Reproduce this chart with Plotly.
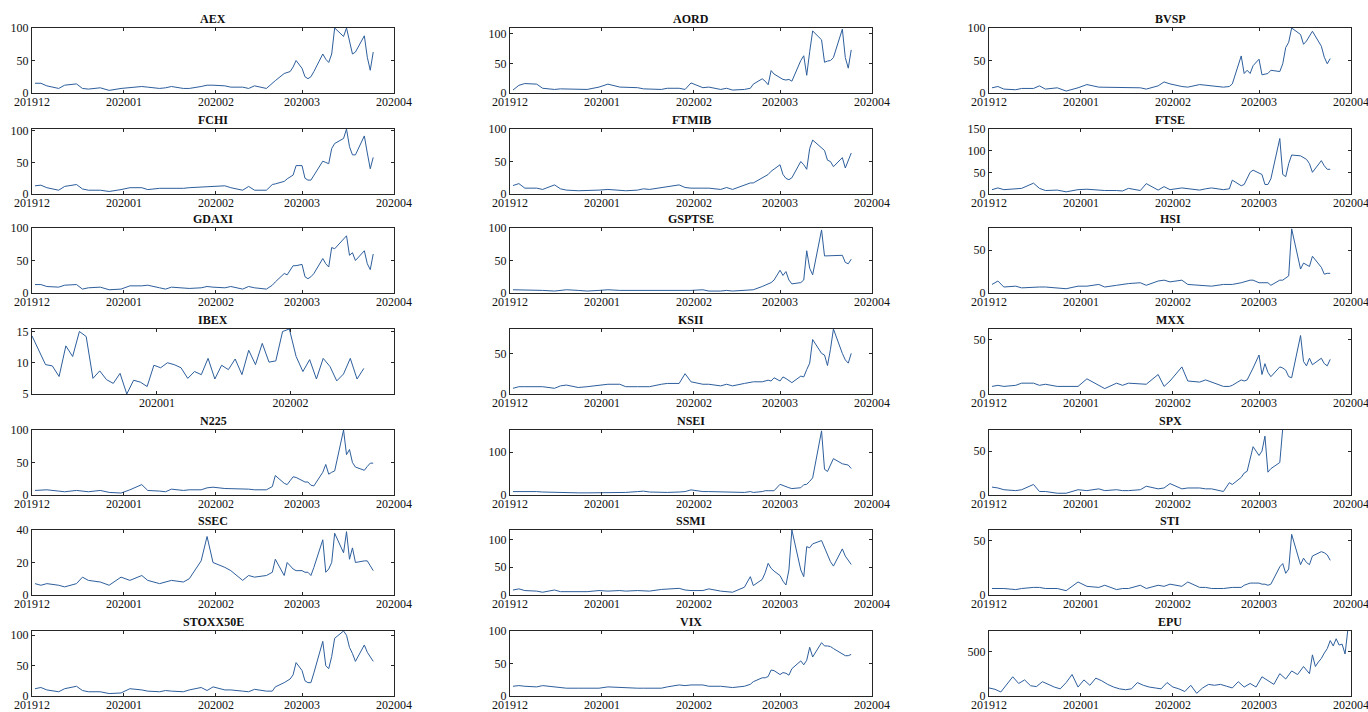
import plotly.graph_objects as go
import pandas as pd

# ---------------- data ----------------
DATES = [
    "2019-12-02", "2019-12-04", "2019-12-06", "2019-12-10", "2019-12-12", "2019-12-16",
    "2019-12-18", "2019-12-20", "2019-12-24", "2019-12-27", "2019-12-31",
    "2020-01-03", "2020-01-07", "2020-01-09", "2020-01-13", "2020-01-15", "2020-01-17",
    "2020-01-21", "2020-01-23", "2020-01-27", "2020-01-29", "2020-01-31",
    "2020-02-04", "2020-02-06", "2020-02-10", "2020-02-12", "2020-02-14", "2020-02-18",
    "2020-02-20", "2020-02-21", "2020-02-24", "2020-02-25", "2020-02-26", "2020-02-27", "2020-02-28",
    "2020-03-01", "2020-03-02", "2020-03-03", "2020-03-04", "2020-03-05", "2020-03-08",
    "2020-03-09", "2020-03-10", "2020-03-11", "2020-03-12", "2020-03-15", "2020-03-16",
    "2020-03-17", "2020-03-18", "2020-03-19", "2020-03-22", "2020-03-23", "2020-03-24",
    "2020-03-25", "2020-03-26",
]

AEX = [15, 15, 11, 7, 12, 14, 7, 6, 8, 4, 7,
       8, 10, 9, 7, 8, 10, 7, 7, 10, 12, 12,
       11, 9, 9, 7, 11, 7, 16, 19, 30, 31, 33, 40, 50,
       38, 25, 22, 25, 33, 60, 52, 47, 60, 100, 87, 100, 80, 60, 63, 88, 55, 35, 63, None]
AORD = [5, 13, 16, 15, 8, 6, 7, 7, 7, 6, 10,
        15, 10, 10, 9, 7, 7, 6, 8, 8, 6, 17,
        9, 10, 6, 8, 5, 6, 8, 15, 24, 20, 14, 38, 32,
        25, 23, 22, 23, 20, 55, 63, 30, 70, 105, 90, 52, 54, 55, 60, 108, 60, 42, 73, None]
BVSP = [8, 10, 6, 5, 7, 7, 11, 6, 8, 3, 8,
        13, 9, 9, 8, 8, 8, 8, 6, 11, 17, 14,
        10, 9, 13, 12, 11, 9, 10, 14, 57, 30, 35, 30, 42,
        52, 28, 29, 30, 35, 33, 45, 70, 78, 100, 90, 75, 80, 88, 95, 72, 55, 45, 53, None]
FCHI = [13, 14, 10, 6, 12, 15, 8, 6, 6, 4, 7,
        10, 10, 7, 9, 9, 8, 9, 10, 11, 11, 12,
        13, 10, 6, 12, 6, 6, 15, 16, 20, 24, 27, 30, 45,
        45, 25, 22, 22, 30, 52, 50, 48, 72, 80, 88, 103, 75, 62, 62, 92, 65, 40, 58, None]
FTMIB = [13, 16, 9, 9, 7, 14, 8, 6, 5, 5, 6,
         7, 6, 5, 6, 8, 7, 10, 11, 14, 10, 9,
         9, 9, 7, 10, 7, 14, 17, 17, 25, 28, 30, 35, 38,
         45, 30, 24, 22, 25, 50, 45, 38, 70, 83, 70, 67, 52, 50, 42, 56, 40, 52, 63, None]
FTSE = [10, 14, 10, 11, 13, 25, 13, 8, 9, 5, 10,
        11, 9, 8, 8, 7, 13, 8, 24, 9, 17, 10,
        14, 12, 9, 12, 14, 10, 12, 32, 19, 22, 35, 50, 55,
        48, 45, 22, 22, 35, 128, 45, 40, 70, 90, 88, 84, 80, 70, 50, 77, 65, 57, 57, None]
GDAXI = [13, 13, 10, 9, 12, 13, 6, 8, 9, 5, 6,
         11, 11, 12, 8, 6, 9, 7, 7, 8, 10, 9,
         8, 10, 6, 10, 8, 6, 12, 17, 30, 28, 35, 42, 42,
         44, 25, 22, 25, 30, 53, 45, 40, 70, 68, 84, 88, 58, 62, 50, 65, 45, 36, 60, None]
GSPTSE = [5, 5, 4, 4, 4, 3, 4, 5, 4, 3, 4,
          5, 4, 4, 3, 3, 4, 4, 3, 3, 4, 4,
          5, 3, 3, 4, 3, 4, 4, 5, 10, 12, 13, 16, 20,
          35, 27, 33, 20, 14, 16, 20, 65, 38, 28, 97, 57, 57, 57, 57, 58, 47, 45, 52, None]
HSI = [10, 14, 7, 8, 6, 7, 7, 7, 6, 5, 8,
       8, 10, 7, 9, 10, 11, 12, 9, 14, 15, 13,
       15, 10, 9, 9, 8, 10, 10, 10, 12, 13, 14, 15, 15,
       12, 12, 12, 12, 9, 15, 15, 17, 20, 75, 28, 35, 33, 31, 43, 30, 22, 23, 23, None]
KSII = [7, 9, 9, 9, 9, 7, 10, 11, 8, 9, 11,
        12, 12, 9, 9, 9, 9, 12, 13, 13, 25, 15,
        12, 12, 10, 12, 10, 13, 14, 15, 15, 16, 17, 16, 20,
        16, 21, 19, 17, 14, 22, 21, 30, 38, 67, 50, 48, 35, 55, 80, 50, 42, 38, 50, None]
MXX = [7, 8, 7, 8, 10, 10, 8, 9, 7, 7, 7,
       14, 8, 5, 10, 8, 10, 9, 9, 18, 7, 12,
       25, 12, 11, 13, 11, 7, 7, 8, 13, 12, 13, 18, 24,
       36, 18, 28, 20, 16, 25, 24, 22, 16, 15, 54, 30, 26, 33, 27, 33, 28, 26, 32, None]
N225 = [7, 8, 8, 6, 5, 7, 6, 5, 7, 4, 3,
        8, 16, 7, 6, 5, 9, 7, 8, 8, 11, 12,
        10, 10, 9, 9, 8, 8, 13, 30, 18, 16, 22, 28, 27,
        22, 20, 20, 15, 14, 35, 47, 32, 35, 37, 100, 62, 70, 50, 43, 38, 44, 49, 49, None]
NSEI = [8, 8, 9, 8, 7, 6, 5, 5, 5, 5, 5,
        5, 5, 6, 8, 9, 7, 6, 6, 7, 8, 12,
        8, 8, 7, 6, 7, 6, 8, 6, 8, 10, 10, 10, 10,
        25, 22, 20, 17, 15, 17, 24, 25, 32, 40, 150, 60, 55, 70, 85, 73, 72, 70, 62, None]
SPX = [9, 8, 6, 5, 6, 12, 4, 4, 2, 2, 6,
       5, 7, 5, 6, 5, 5, 6, 10, 7, 8, 13,
       7, 8, 8, 7, 7, 4, 14, 12, 20, 25, 27, 40, 55,
       45, 50, 67, 26, 30, 37, 76, None, None, None, None, None, None, None, None, None, None, None, None, None]
SSEC = [7, 6, 7, 6, 5, 7, 11, 9, 8, 6, 11,
        9, 12, 9, 7, 8, 9, 8, 10, 21, 36, 20,
        17, 15, 9, 12, 11, 12, 14, 22, 12, 20, 18, 16, 15,
        15, 14, 14, 12, 17, 34, 14, 16, 20, 38, 26, 39, 22, 29, 20, 21, 21, 18, 15, None]
SSMI = [9, 11, 8, 7, 5, 9, 6, 6, 6, 6, 8,
        7, 8, 7, 8, 7, 7, 10, 11, 12, 9, 8,
        8, 11, 7, 6, 5, 14, 33, 17, 28, 40, 57, 48, 43,
        35, 25, 18, 45, 117, 45, 33, 87, 85, 92, 98, 85, 75, 60, 52, 83, 70, 62, 55, None]
STI = [6, 6, 6, 5, 6, 7, 7, 6, 6, 4, 12,
       8, 7, 9, 5, 6, 6, 9, 6, 9, 8, 10,
       8, 12, 7, 7, 6, 6, 7, 7, 7, 9, 10, 11, 11,
       11, 10, 10, 9, 10, 26, 29, 20, 24, 56, 28, 34, 30, 28, 36, 40, 39, 37, 32, None]
STOXX50E = [12, 14, 10, 7, 12, 16, 9, 7, 7, 4, 5,
            12, 10, 8, 7, 9, 8, 7, 10, 14, 9, 15,
            10, 10, 8, 7, 11, 8, 8, 15, 22, 25, 28, 35, 55,
            42, 25, 22, 22, 38, 90, 50, 45, 65, 95, 107, 100, 80, 70, 57, 84, 72, 65, 57, None]
VIX = [15, 16, 15, 14, 16, 14, 13, 12, 12, 12, 12,
       14, 13, 12, 12, 12, 12, 12, 14, 17, 16, 17,
       17, 15, 15, 14, 13, 15, 18, 22, 28, 28, 30, 40, 39,
       33, 36, 35, 32, 42, 54, 48, 55, 75, 60, 82, 77, 77, 76, 73, 64, 62, 62, 64, None]

# IBEX is drawn on its own, shorter span
IBEX_DATES = pd.date_range("2019-12-03", "2020-02-18", periods=50)
IBEX = [14.3, 12, 9.7, 9.5, 7.8, 12.7, 11, 15, 14.2, 7.5, 8.7, 7.3, 6.7, 8.3, 5.0,
        7.2, 6.9, 6.2, 9.6, 9.2, 10, 9.7, 9.2, 7.5, 8.6, 8.1, 10.7, 7.4, 9.6, 8.9,
        10.6, 8.1, 12, 9.7, 13.1, 10.1, 10.3, 15, 15.4, 11, 8.6, 10.5, 7.4, 10.7, 9.4,
        7.1, 8.2, 10.7, 7.4, 9.1]

# EPU is a daily index
EPU_DATES = list(pd.date_range("2019-12-01", "2020-03-18", freq="2D")) + \
    list(pd.date_range("2020-03-19", "2020-03-31", freq="D"))
EPU = [90, 75, 45, 130, 215, 140, 180, 115, 105, 160, 130, 100, 80, 150, 240, 100, 180,
       120, 200, 170, 130, 100, 80, 70, 80, 150, 120, 100, 90, 80, 150, 100, 80, 50, 120,
       30, 90, 130, 120, 130, 110, 90, 160, 100, 140, 100, 215, 170, 130, 250, 190, 280,
       240, 330, 250,
       460, 330, 380, 420, 480, 530, 620, 560, 640, 570, 580, 470, 760]

NAMES = ["AEX", "AORD", "BVSP", "FCHI", "FTMIB", "FTSE", "GDAXI", "GSPTSE", "HSI",
         "IBEX", "KSII", "MXX", "N225", "NSEI", "SPX", "SSEC", "SSMI", "STI",
         "STOXX50E", "VIX", "EPU"]
SERIES = {
    "AEX": (DATES, AEX), "AORD": (DATES, AORD), "BVSP": (DATES, BVSP),
    "FCHI": (DATES, FCHI), "FTMIB": (DATES, FTMIB), "FTSE": (DATES, FTSE),
    "GDAXI": (DATES, GDAXI), "GSPTSE": (DATES, GSPTSE), "HSI": (DATES, HSI),
    "IBEX": (IBEX_DATES, IBEX), "KSII": (DATES, KSII), "MXX": (DATES, MXX),
    "N225": (DATES, N225), "NSEI": (DATES, NSEI), "SPX": (DATES, SPX),
    "SSEC": (DATES, SSEC), "SSMI": (DATES, SSMI), "STI": (DATES, STI),
    "STOXX50E": (DATES, STOXX50E), "VIX": (DATES, VIX), "EPU": (EPU_DATES, EPU),
}
Y_RANGE = {
    "AEX": [0, 100], "AORD": [0, 110], "BVSP": [0, 100], "FCHI": [0, 103],
    "FTMIB": [0, 100], "FTSE": [0, 150], "GDAXI": [0, 100], "GSPTSE": [0, 100],
    "HSI": [0, 76], "IBEX": [5, 15.4], "KSII": [0, 80], "MXX": [0, 60],
    "N225": [0, 100], "NSEI": [0, 152], "SPX": [0, 74], "SSEC": [0, 40],
    "SSMI": [0, 117], "STI": [0, 60], "STOXX50E": [0, 107], "VIX": [0, 100],
    "EPU": [0, 727],
}
Y_DTICK = {"FTSE": 50, "SSEC": 20, "IBEX": 5, "NSEI": 100, "EPU": 500}
X_RANGE = ["2019-12-01", "2020-04-01"]
X_RANGE_IBEX = ["2019-12-03", "2020-02-25"]

# ---------------- layout ----------------
W, H = 1368, 712
COL_X = [(32, 394), (510, 872), (989, 1351)]
ROW_TOP = [28, 129, 228, 329, 430, 530, 631]
ROW_H = 65
LINE_COLOR = "#2d5e9c"
FONT = dict(family="Liberation Serif, Times New Roman, serif", size=12, color="#111111")

fig = go.Figure()
annotations = []
for i, name in enumerate(NAMES):
    r, c = divmod(i, 3)
    n = i + 1
    xs, ys = SERIES[name]
    fig.add_trace(go.Scatter(x=xs, y=ys, mode="lines",
                             line=dict(color=LINE_COLOR, width=1),
                             xaxis=f"x{n}", yaxis=f"y{n}", showlegend=False,
                             connectgaps=False))
    x0, x1 = COL_X[c]
    top = ROW_TOP[r]
    dom_x = [x0 / W, x1 / W]
    dom_y = [1 - (top + ROW_H) / H, 1 - top / H]
    common = dict(showline=True, linecolor="#262626", linewidth=1, mirror="ticks",
                  ticks="inside", ticklen=3, tickcolor="#262626", showgrid=False,
                  zeroline=False, tickfont=FONT, automargin=False,
                  ticklabeloverflow="allow")
    fig.update_layout(**{
        f"xaxis{n}": dict(domain=dom_x, anchor=f"y{n}", type="date",
                          range=X_RANGE_IBEX if name == "IBEX" else X_RANGE,
                          tick0="2019-12-01", dtick="M1", tickformat="%Y%m",
                          ticklabelstandoff=-2, **common),
        f"yaxis{n}": dict(domain=dom_y, anchor=f"x{n}", range=Y_RANGE[name],
                          dtick=Y_DTICK.get(name, 50), tick0=0, **common),
    })
    annotations.append(dict(text=name, x=(dom_x[0] + dom_x[1]) / 2, y=dom_y[1],
                            xref="paper", yref="paper", xanchor="center",
                            yanchor="bottom", yshift=0, showarrow=False,
                            font=dict(family=FONT["family"], size=12, color="#111111",
                                      weight="bold")))

fig.update_layout(width=W, height=H, margin=dict(l=0, r=0, t=0, b=0, autoexpand=False),
                  paper_bgcolor="white", plot_bgcolor="white",
                  annotations=annotations, showlegend=False)
fig.write_html("out.html", config={"displayModeBar": False},
               post_script="document.body.style.margin='0';document.body.style.overflow='hidden';")
